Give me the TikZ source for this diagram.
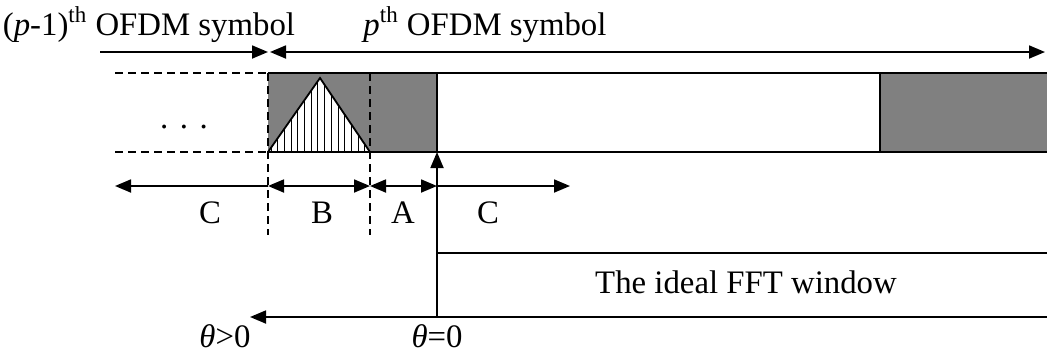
\documentclass[tikz,border=0pt]{standalone}
\usepackage{fontspec}
\setmainfont{Liberation Serif}
\usepackage{xcolor}
\usetikzlibrary{arrows.meta}
\definecolor{guardgray}{RGB}{128,128,128}

\begin{document}
\begin{tikzpicture}[
    x=0.5pt, y=-0.5pt,
    line width=0.9pt,
    tip/.style={-{Triangle[length=8pt,width=6.5pt]}},
    dim/.style={{Triangle[length=8pt,width=6.5pt]}-{Triangle[length=8pt,width=6.5pt]}},
    bound/.style={dash pattern=on 4pt off 2.5pt},
    lbl/.style={font=\fontsize{16.4}{19}\selectfont, anchor=base, inner sep=0pt}
]
    \useasboundingbox (0,0) rectangle (1047,354);

    % key points of the symbol strip
    \coordinate (prevT) at (115,73);   \coordinate (prevB) at (115,152);
    \coordinate (cpT)   at (268,73);   \coordinate (cpB)   at (268,152);
    \coordinate (isiT)  at (370,73);   \coordinate (isiB)  at (370,152);
    \coordinate (symT)  at (437,73);   \coordinate (symB)  at (437,152);
    \coordinate (tailT) at (880,73);   \coordinate (tailB) at (880,152);
    \coordinate (endT)  at (1047,73);  \coordinate (endB)  at (1047,152);
    \coordinate (apex)  at (320,78);

    % guard intervals
    \fill[guardgray] (cpT) rectangle (symB);
    \fill[guardgray] (tailT) rectangle (endB);

    % ISI triangle with vertical hatching
    \fill[white] (cpB) -- (apex) -- (isiB) -- cycle;
    \begin{scope}
        \clip (cpB) -- (apex) -- (isiB) -- cycle;
        \foreach \x in {271,277.7,...,370}
            \draw[line width=0.5pt] (\x,70) -- (\x,156);
    \end{scope}
    \draw (cpB) -- (apex) -- (isiB);

    % strip outline
    \draw[bound] (prevT) -- (cpT);
    \draw[bound] (prevB) -- (cpB);
    \draw (cpT) -- (endT);
    \draw (cpB) -- (endB);
    \draw (symT) -- (symB);
    \draw (tailT) -- (tailB);
    \node[lbl] (dots) at (184,128) {.\hspace{0.35em}.\hspace{0.35em}.};

    % dashed boundaries
    \coordinate (cpL) at (268,235);
    \coordinate (isiL) at (370,235);
    \draw[bound] (cpT) -- (cpL);
    \draw[bound] (isiT) -- (isiL);

    % symbol extent arrows
    \coordinate (symArrL) at (100,52);
    \coordinate (symArrM) at (268,52);
    \coordinate (symArrM2) at (270,52);
    \coordinate (symArrR) at (1045,52);
    \draw[tip] (symArrL) -- (symArrM);
    \draw[dim] (symArrM2) -- (symArrR);
    \node[lbl, anchor=base west] (prevlbl) at (2,35) {(\textit{p}-1)\textsuperscript{th} OFDM symbol};
    \node[lbl] (curlbl) at (485,35) {\textit{p}\textsuperscript{th} OFDM symbol};

    % region dimensions
    \coordinate (dC1) at (115,186);
    \coordinate (dB1) at (268,186);
    \coordinate (dA1) at (370,186);
    \coordinate (d0)  at (437,186);
    \coordinate (dC2) at (570,186);
    \draw[tip] (dB1) -- (dC1);
    \draw[dim] (dB1) -- (dA1);
    \draw[dim] (dA1) -- (d0);
    \draw[tip] (d0) -- (dC2);
    \node[lbl] (labC1) at (210,223) {C};
    \node[lbl] (labB)  at (322,223) {B};
    \node[lbl] (labA)  at (403,223) {A};
    \node[lbl] (labC2) at (488,223) {C};

    % ideal FFT window and timing offset
    \coordinate (zero)  at (437,317);
    \coordinate (winT)  at (437,253);
    \coordinate (winTR) at (1047,253);
    \coordinate (winBR) at (1047,317);
    \coordinate (pos)   at (250,317);
    \draw (winT) -- (winTR);
    \draw (zero) -- (winBR);
    \draw[tip] (zero) -- (symB);
    \draw[tip] (zero) -- (pos);
    \node[lbl] (fft) at (746,293) {The ideal FFT window};
    \node[lbl] (thpos) at (225,347) {\textit{θ}>0};
    \node[lbl] (thzero) at (437,347) {\textit{θ}=0};
\end{tikzpicture}
\end{document}
